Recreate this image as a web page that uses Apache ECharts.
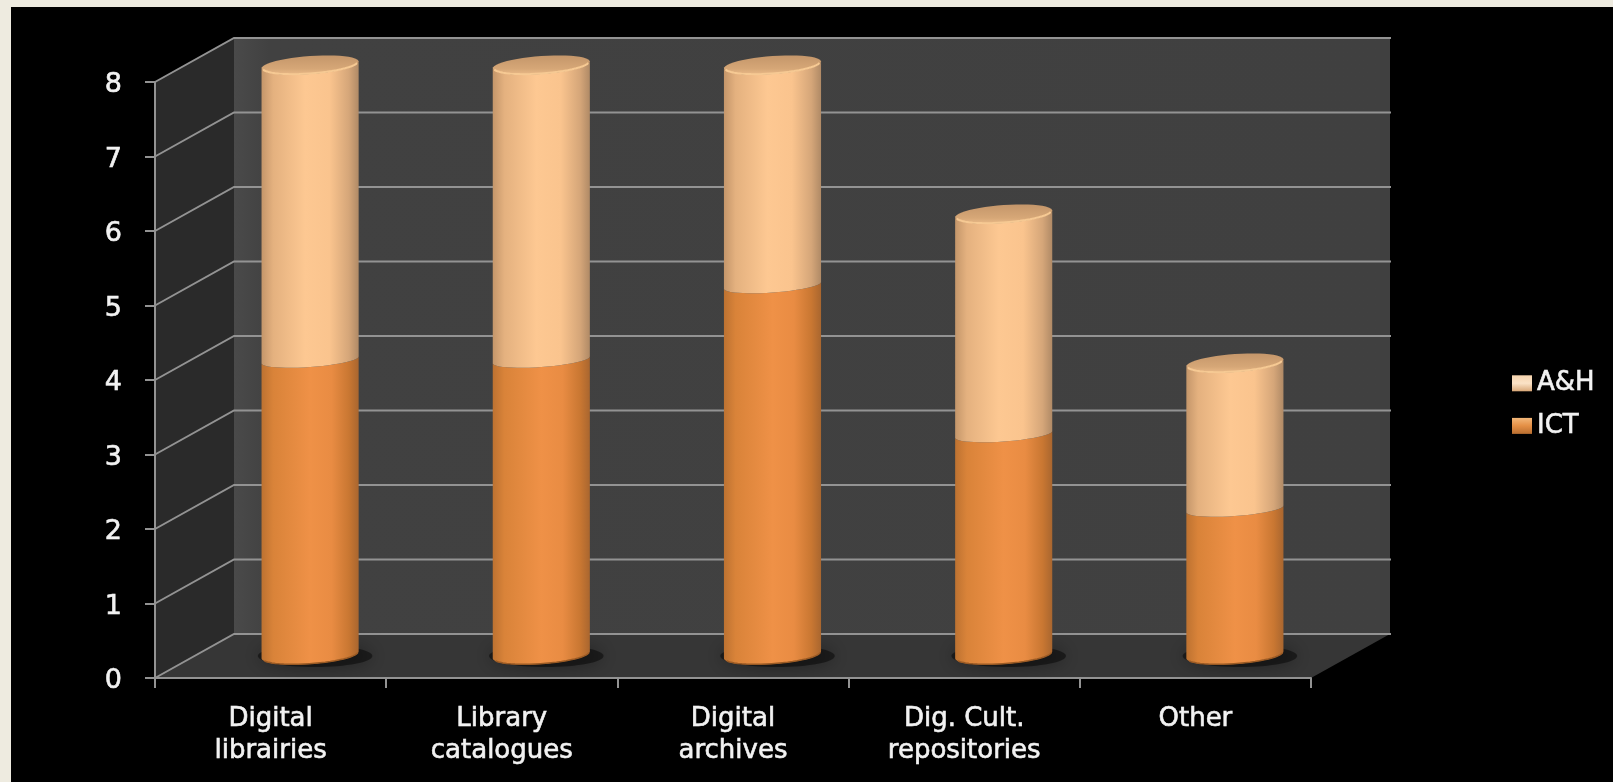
<!DOCTYPE html>
<html><head><meta charset="utf-8">
<style>
html,body{margin:0;padding:0;width:1613px;height:782px;background:#eeebe0;overflow:hidden}
#panel{position:absolute;left:11px;top:7px;right:0;bottom:0;background:#000}
#chart{position:absolute;left:0;top:0;width:1613px;height:782px;filter:blur(0.6px)}
</style>
<script src="https://cdn.jsdelivr.net/npm/echarts@6/dist/echarts.min.js"></script>
</head><body><div id="panel"></div><div id="chart"></div>
<script>
const categories = ['Digital\nlibrairies','Library\ncatalogues','Digital\narchives','Dig. Cult.\nrepositories','Other'];
const ictValues = [4,4,5,3,2];
const ahValues = [4,4,3,3,2];
const yTicks = [0,1,2,3,4,5,6,7,8];

const FONT = '"DejaVu Sans"';
const DEPTH_X = 79, DEPTH_Y = -44, LIFT = -20, RY = 9, RY_JOIN = 7, END_INSET = 3, SHEAR = -0.07;
const LINE = '#939393', TEXT = '#f2f2f2';

function lg(x0,y0,x1,y1,stops){return new echarts.graphic.LinearGradient(x0,y0,x1,y1,stops.map(c=>({offset:c[0],color:c[1]})));}
const ahBody = ()=>lg(0,0,1,0,[[0,'#c4966a'],[0.12,'#e4b17f'],[0.45,'#fdc892'],[0.7,'#fac48e'],[0.9,'#d5a679'],[1,'#b08a66']]);
const ictBody = ()=>lg(0,0,1,0,[[0,'#bd7231'],[0.12,'#d98339'],[0.5,'#ef9147'],[0.72,'#e98c43'],[0.9,'#c97732'],[1,'#a9662f']]);

function arc(cx,cy,rx,ry,from,to,n){
  const pts=[];
  for(let i=0;i<=n;i++){
    const t=from+(to-from)*i/n;
    pts.push([cx+rx*Math.cos(t),cy+ry*Math.sin(t)+SHEAR*rx*Math.cos(t)]);
  }
  return pts;
}

function renderWalls(params,api){
  const [xl,y0]=api.coord([0,0]);
  const band=api.size([1,0])[0];
  const left=xl-band/2, right=left+band*categories.length;
  const y8=api.coord([0,8])[1];
  const kids=[];
  kids.push({type:'polygon',shape:{points:[[left,y0],[left+DEPTH_X,y0+DEPTH_Y],[left+DEPTH_X,y8+DEPTH_Y],[left,y8]]},style:{fill:'#2a2a2a'}});
  kids.push({type:'rect',shape:{x:left+DEPTH_X,y:y8+DEPTH_Y,width:right-left,height:y0-y8},style:{fill:lg(0,0,1,0,[[0,'#4a4a4a'],[0.03,'#414141'],[1,'#404040']])}});
  kids.push({type:'polygon',shape:{points:[[left,y0],[right,y0],[right+DEPTH_X,y0+DEPTH_Y],[left+DEPTH_X,y0+DEPTH_Y]]},style:{fill:'#363636'}});
  yTicks.forEach(v=>{
    const y=api.coord([0,v])[1];
    kids.push({type:'polyline',shape:{points:[[left,y],[left+DEPTH_X,y+DEPTH_Y],[right+DEPTH_X+1,y+DEPTH_Y]]},style:{fill:null,stroke:LINE,lineWidth:2}});
  });
  return {type:'group',children:kids};
}

function makeRender(bodyFill,isTop){
  return function(params,api){
    const [cxBase,yBase]=api.coord([api.value(0),api.value(1)]);
    const yTop=api.coord([api.value(0),api.value(2)])[1];
    const band=api.size([1,0])[0];
    const rx=band*0.21;
    const cx=cxBase+DEPTH_X/2;
    const atFloor=api.value(1)===0;
    const by=yBase+LIFT-(atFloor?END_INSET:0), ty=yTop+LIFT+(isTop?END_INSET:0);
    const ryBottom=atFloor?RY:RY_JOIN, ryTop=isTop?RY:RY_JOIN;
    const kids=[];
    if(atFloor){
      kids.push({type:'ellipse',shape:{cx:cx+5,cy:by+1,rx:rx*1.18,ry:RY+2},style:{fill:'rgba(0,0,0,0.45)',shadowBlur:18,shadowColor:'rgba(0,0,0,0.8)'}});
    }
    const pts=arc(cx,by,rx,ryBottom,Math.PI,0,24).concat(arc(cx,ty,rx,ryTop,0,Math.PI,24));
    kids.push({type:'polygon',shape:{points:pts},style:{fill:bodyFill()}});
    if(atFloor){
      kids.push({type:'polyline',shape:{points:arc(cx,by,rx-0.5,ryBottom-0.3,Math.PI*0.9,Math.PI*0.04,24)},style:{fill:null,stroke:'#9a5a24',lineWidth:1.5}});
    }
    if(isTop){
      kids.push({type:'polygon',shape:{points:arc(cx,ty,rx,RY,0,Math.PI*2,48)},style:{fill:lg(0,0,0,1,[[0,'#c4966a'],[0.7,'#d6a777'],[1,'#e9b987']])}});
      kids.push({type:'polyline',shape:{points:arc(cx,ty,rx-1,RY-0.5,Math.PI*0.95,Math.PI*0.05,24)},style:{fill:null,stroke:'#f6c993',lineWidth:2}});
    }
    return {type:'group',children:kids};
  };
}

const ictData = categories.map((c,i)=>[i,0,ictValues[i]]);
const ahData = categories.map((c,i)=>[i,ictValues[i],ictValues[i]+ahValues[i]]);
const heavy = {textBorderColor:TEXT,textBorderWidth:0.6};

const chart = echarts.init(document.getElementById('chart'),null,{renderer:'canvas'});
chart.setOption({
  animation:false,
  backgroundColor:'transparent',
  textStyle:{fontFamily:FONT},
  grid:{left:155,right:302,top:82,bottom:104,containLabel:false},
  legend:{
    orient:'vertical',left:1507,top:365,itemWidth:20,itemHeight:16,itemGap:16,
    data:[
      {name:'A&H',icon:'rect',itemStyle:{color:lg(0,0,0,1,[[0,'#f6d4ae'],[0.5,'#fbe2c6'],[1,'#d9a878']])}},
      {name:'ICT',icon:'rect',itemStyle:{color:lg(0,0,0,1,[[0,'#f3b779'],[0.5,'#e48f45'],[1,'#b96e30']])}}
    ],
    textStyle:{color:TEXT,fontSize:26,fontFamily:FONT,...heavy}
  },
  xAxis:{type:'category',data:categories,z:2,
    axisLine:{lineStyle:{color:LINE,width:2}},
    axisTick:{show:true,length:10,lineStyle:{color:LINE,width:2}},
    axisLabel:{color:TEXT,fontSize:26,lineHeight:32,margin:25,fontFamily:FONT,interval:0,...heavy},
    splitLine:{show:false}},
  yAxis:{type:'value',min:0,max:8,interval:1,z:2,
    axisLine:{show:true,lineStyle:{color:LINE,width:2}},
    axisTick:{show:true,length:10,lineStyle:{color:LINE,width:2}},
    axisLabel:{margin:33,formatter:v=>'{d|'+v+'}',
      rich:{d:{color:TEXT,fontSize:27,fontFamily:FONT,padding:[6,0,0,0],...heavy}}},
    splitLine:{show:false}},
  series:[
    {type:'custom',name:'walls',z:1,silent:true,clip:false,renderItem:renderWalls,data:[[0,0,0]],encode:{x:0,y:1}},
    {type:'custom',name:'ICT',z:3,clip:false,renderItem:makeRender(ictBody,false),data:ictData,encode:{x:0,y:[1,2]},itemStyle:{color:'#e48f45'}},
    {type:'custom',name:'A&H',z:4,clip:false,renderItem:makeRender(ahBody,true),data:ahData,encode:{x:0,y:[1,2]},itemStyle:{color:'#f6d4ae'}}
  ]
});
</script></body></html>
